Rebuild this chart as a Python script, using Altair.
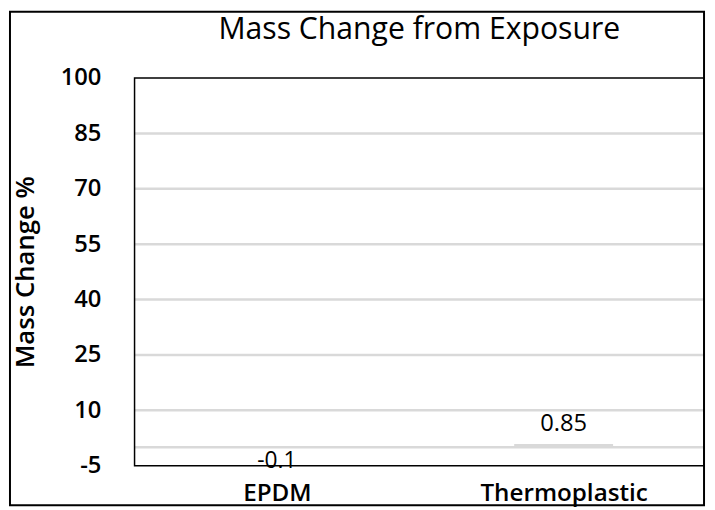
import altair as alt
import pandas as pd

categories = ["EPDM", "Thermoplastic"]
values = [-0.1, 0.85]
value_labels = ["-0.1", "0.85"]
tick_values = [-5, 10, 25, 40, 55, 70, 85, 100]
grid_values = [10, 25, 40, 55, 70, 85]
zero_line = [0]
chart_title = "Mass Change from Exposure"
y_title = "Mass Change %"

FONT = "Open Sans"
W, H = 576, 392

bars_df = pd.DataFrame({"cat": categories, "v": values, "lab": value_labels})
grid_df = pd.DataFrame({"g": grid_values})
zero_df = pd.DataFrame({"z": zero_line})
frame_df = pd.DataFrame({"k": [1]})

yscale = alt.Scale(domain=[-5, 100], nice=False, zero=False)
xscale = alt.Scale(type="point", range=[144, 434], padding=0)
yaxis = alt.Axis(values=tick_values, grid=False, domain=False, ticks=False,
                 labelExpr="toString(datum.value)",
                 labelFont=FONT, labelFontSize=24, labelColor="#000000",
                 labelPadding=34, labelFontWeight=600,
                 title=y_title, titleFont=FONT, titleFontSize=26,
                 titleFontWeight=600, titleColor="#000000",
                 titleAngle=270, titleX=-110, titleY=196,
                 titleAlign="center", titleBaseline="middle")
xaxis = alt.Axis(title=None, domain=False, ticks=False, labelAngle=0,
                 labelFont=FONT, labelFontSize=24.5, labelFontWeight=600,
                 labelColor="#000000", labelPadding=28, labelBaseline="middle")


def Y(field):
    return alt.Y(field, scale=yscale, axis=yaxis, title=y_title)


def X():
    return alt.X("cat:N", scale=xscale, sort=categories, axis=xaxis)


grid = alt.Chart(grid_df).mark_rule(color="#d9d9d9", strokeWidth=2.5).encode(
    y=Y("g:Q"), x=alt.value(0), x2=alt.value(W),
)

zero = alt.Chart(zero_df).mark_rule(color="#d9d9d9", strokeWidth=2.5).encode(
    y=Y("z:Q"), x=alt.value(0), x2=alt.value(W),
)

bars = alt.Chart(bars_df).mark_bar(color="#d9d9d9", size=100).encode(
    x=X(), y=Y("v:Q"),
)

pos = alt.Chart(bars_df).transform_filter("datum.v >= 0").mark_text(
    font=FONT, fontSize=24, color="#000000", dy=-20, baseline="middle"
).encode(x=X(), y=Y("v:Q"), text="lab:N")

neg = alt.Chart(bars_df).transform_filter("datum.v < 0").mark_text(
    font=FONT, fontSize=23, color="#000000", dy=14, baseline="middle"
).encode(x=X(), y=Y("v:Q"), text="lab:N")

frame = alt.Chart(frame_df).mark_rect(filled=False, stroke="#000000", strokeWidth=1.5).encode(
    x=alt.value(0), x2=alt.value(W), y=alt.value(0), y2=alt.value(H),
)
outer = alt.Chart(frame_df).mark_rect(filled=False, stroke="#000000", strokeWidth=2).encode(
    x=alt.value(-126), x2=alt.value(W), y=alt.value(-67), y2=alt.value(432),
)
title = alt.Chart(frame_df).mark_text(
    font=FONT, fontSize=30.5, color="#000000", baseline="middle", align="center"
).encode(x=alt.value(288), y=alt.value(-49), text=alt.value(chart_title))

chart = alt.layer(grid, zero, bars, pos, neg, frame, outer, title).properties(
    width=W, height=H,
    autosize=alt.AutoSizeParams(type="none"),
    padding={"left": 128, "top": 68, "right": 3, "bottom": 42},
).configure_view(stroke=None)

chart.save("out.html", embed_options={"renderer": "svg", "actions": False})
